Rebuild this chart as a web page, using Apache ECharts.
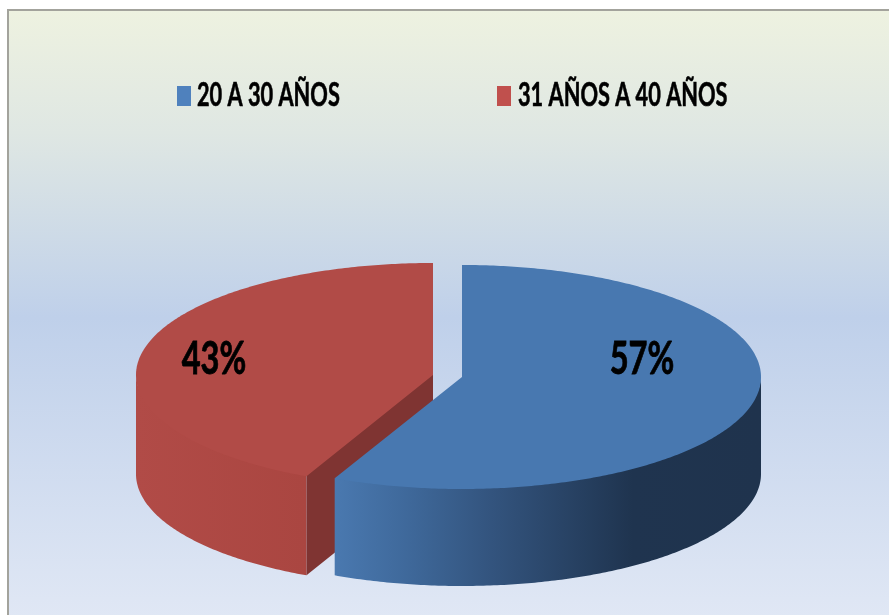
<!DOCTYPE html>
<html>
<head>
<meta charset="utf-8">
<style>html,body{margin:0;padding:0;background:#fff}#c{width:889px;height:615px}</style>
<script src="https://cdn.jsdelivr.net/npm/echarts@6/dist/echarts.min.js"></script>
</head>
<body>
<div id="c"></div>
<script>
const categories = ['20 A 30 AÑOS', '31 AÑOS A 40 AÑOS'];
const values = [57, 43];
const valueLabels = ['57%', '43%'];

const total = values.reduce((a, b) => a + b, 0);
const FONT = 'Lato,"Liberation Sans",sans-serif';
const chart = echarts.init(document.getElementById('c'), null, {renderer: 'canvas'});
const G = echarts.graphic;

// angle measured clockwise from 12 o'clock, in degrees
function pt(g, deg, dy) {
  const r = deg * Math.PI / 180;
  return [g.cx + g.rx * Math.sin(r), g.cy - g.ry * Math.cos(r) + (dy || 0)];
}
function arc(g, a0, a1, dy) {
  const out = [], n = Math.max(2, Math.ceil(Math.abs(a1 - a0) * 1.5));
  for (let i = 0; i <= n; i++) out.push(pt(g, a0 + (a1 - a0) * i / n, dy));
  return out;
}
const poly = (points, fill, z2) => ({type: 'polygon', shape: {points}, z2, style: {fill, stroke: null}});
const pctLabel = (text, x) => ({type: 'text', z2: 3, x, y: 359, scaleX: 0.71, originX: 0, originY: 0,
  style: {x: 0, y: 0, text, align: 'center', verticalAlign: 'middle', font: 'bold 46px ' + FONT,
    fill: '#000', stroke: '#000', lineWidth: 0.8}});

const blueWall = new G.LinearGradient(333, 0, 761, 0, [
  {offset: 0, color: '#4a79b0'}, {offset: 0.17, color: '#3f699b'},
  {offset: 0.37, color: '#33547e'}, {offset: 0.7, color: '#1f344f'},
  {offset: 1, color: '#1f334d'}
], true);
const redWall = new G.LinearGradient(136, 0, 304, 0, [
  {offset: 0, color: '#b14b47'}, {offset: 1, color: '#aa4641'}
], true);

function blueItem(params, api) {
  const g = {cx: 462, cy: 377, rx: 299, ry: 112, depth: 97};
  const sweep = api.value(0) / total * 360;
  const top = arc(g, 0, sweep);
  // the upper wall edge runs slightly under the top face so no seam shows
  const wallTop = arc(g, 90, sweep - 1, -2).concat([pt(g, sweep)]);
  const wallBottom = arc(g, sweep, 90, g.depth);
  return {type: 'group', children: [
    poly(wallTop.concat(wallBottom), blueWall, 1),
    poly([[g.cx, g.cy]].concat(top), '#4878b0', 2),
    pctLabel(valueLabels[0], 642)
  ]};
}
function redItem(params, api) {
  const g = {cx: 433, cy: 375, rx: 297, ry: 112, depth: 99};
  const sweep = api.value(0) / total * 360;
  const start = 360 - sweep;
  const top = arc(g, start, 360);
  const tip = pt(g, start);
  const wallTop = arc(g, start, 270, -2);
  const wallBottom = arc(g, 270, start, g.depth);
  return {type: 'group', children: [
    poly(wallTop.concat(wallBottom), redWall, 1),
    poly([[g.cx, g.cy - 1], [tip[0], tip[1] - 1], [tip[0], tip[1] + g.depth], [g.cx, g.cy + g.depth]], '#7f3432', 1),
    poly([[g.cx, g.cy]].concat(top), '#b14b47', 2),
    pctLabel(valueLabels[1], 214)
  ]};
}

const legendBase = {top: 86, itemWidth: 14, itemHeight: 20, icon: 'rect', selectedMode: false,
  formatter: () => '', padding: 0};
const legendText = (text, x) => ({type: 'text', silent: true, x, y: 96, scaleX: 0.68, originX: 0, originY: 0,
  style: {x: 0, y: 0, text, align: 'left', verticalAlign: 'middle', font: 'bold 32px ' + FONT,
    fill: '#000', stroke: '#000', lineWidth: 0.6}});

chart.setOption({
  animation: false,
  graphic: [{
    type: 'rect', z: -10, silent: true,
    shape: {x: 8, y: 10, width: 890, height: 615},
    style: {
      stroke: '#a3a39c', lineWidth: 2,
      fill: new G.LinearGradient(0, 0, 0, 1, [
        {offset: 0, color: '#eef2e0'}, {offset: 0.2, color: '#dfe7e3'},
        {offset: 0.5, color: '#bfd0ea'}, {offset: 1, color: '#e1e8f5'}
      ])
    }
  },
  legendText(categories[0], 197),
  legendText(categories[1], 518)],
  legend: [
    Object.assign({}, legendBase, {left: 177, data: [categories[0]]}),
    Object.assign({}, legendBase, {left: 497, data: [categories[1]]})
  ],
  series: [
    {type: 'custom', name: categories[1], coordinateSystem: 'none', renderItem: redItem,
      data: [[values[1]]], itemStyle: {color: '#c0504d'}, silent: true},
    {type: 'custom', name: categories[0], coordinateSystem: 'none', renderItem: blueItem,
      data: [[values[0]]], itemStyle: {color: '#4f81bd'}, silent: true}
  ]
});
</script>
</body>
</html>
